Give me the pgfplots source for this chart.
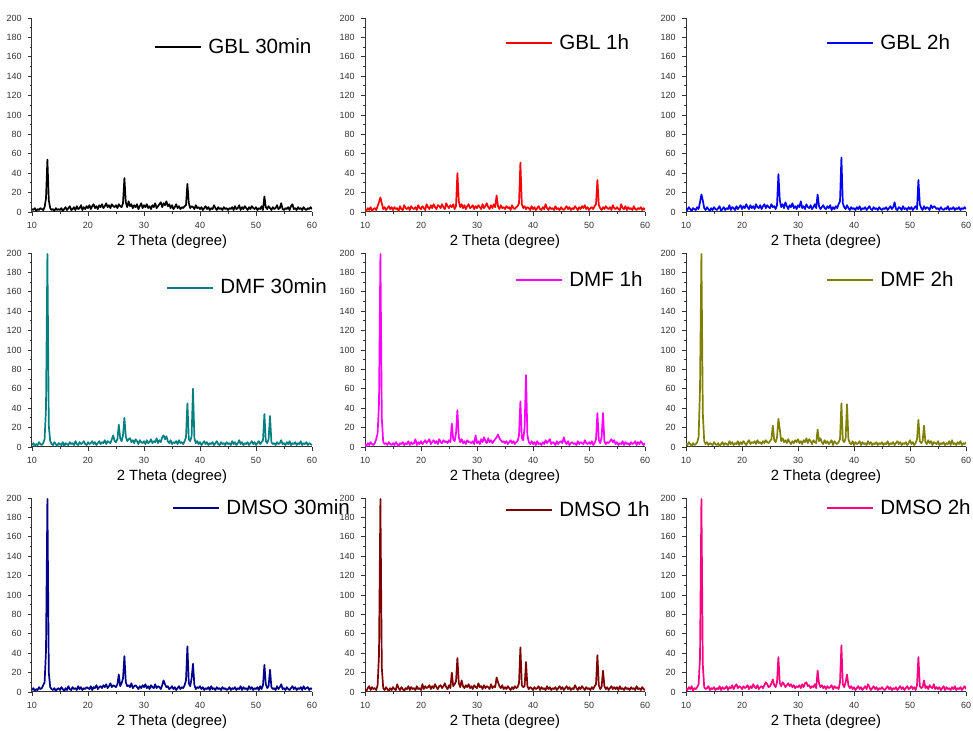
\documentclass[border=0pt]{standalone}
\usepackage{pgfplots}
\usepackage{pgfplotstable}
\pgfplotsset{compat=1.18}
\usepackage{fontspec}
\setmainfont{Liberation Sans}
\definecolor{cteal}{RGB}{0,128,128}
\definecolor{cmag}{RGB}{255,0,255}
\definecolor{colive}{RGB}{128,128,0}
\definecolor{cnavy}{RGB}{0,0,140}
\definecolor{cdred}{RGB}{128,0,0}
\definecolor{cpink}{RGB}{255,0,128}
\pgfplotstableread[row sep=\\,header=false]{3\\2\\4\\1\\3\\2\\4\\3\\2\\5\\14\\54\\12\\4\\2\\3\\1\\4\\2\\3\\
2\\4\\1\\3\\5\\2\\4\\6\\2\\3\\5\\2\\6\\3\\4\\7\\2\\5\\3\\6\\
4\\7\\3\\6\\8\\4\\6\\3\\7\\5\\8\\4\\6\\9\\5\\7\\4\\8\\6\\5\\
7\\4\\8\\6\\5\\9\\35\\10\\5\\11\\6\\8\\4\\7\\5\\8\\3\\6\\9\\4\\
7\\5\\8\\4\\6\\3\\7\\5\\9\\4\\6\\8\\10\\5\\9\\7\\11\\6\\8\\4\\
7\\3\\5\\8\\4\\6\\3\\5\\4\\6\\7\\29\\9\\4\\6\\5\\3\\7\\4\\5\\
3\\5\\2\\4\\6\\3\\5\\2\\4\\3\\7\\4\\2\\5\\3\\4\\2\\5\\3\\4\\
2\\4\\3\\5\\2\\6\\3\\4\\7\\2\\5\\3\\6\\4\\2\\5\\3\\6\\4\\3\\
5\\2\\4\\3\\6\\2\\16\\5\\3\\6\\4\\2\\5\\3\\4\\7\\3\\4\\9\\3\\
2\\4\\3\\5\\2\\6\\8\\3\\4\\2\\5\\3\\4\\2\\5\\3\\2\\4\\3\\5\\
3\\}\gblA
\pgfplotstableread[row sep=\\,header=false]{3\\1\\4\\2\\5\\1\\3\\4\\2\\6\\10\\15\\9\\3\\5\\2\\4\\6\\3\\5\\
2\\5\\3\\4\\1\\6\\3\\2\\7\\4\\3\\5\\2\\6\\4\\3\\5\\2\\7\\4\\
3\\6\\4\\2\\8\\5\\3\\7\\4\\8\\5\\3\\7\\6\\4\\8\\5\\3\\9\\6\\
4\\7\\5\\8\\3\\6\\40\\11\\5\\8\\4\\7\\3\\6\\8\\4\\5\\7\\3\\6\\
4\\7\\5\\3\\8\\4\\6\\9\\5\\3\\7\\4\\8\\5\\17\\6\\3\\7\\4\\5\\
3\\6\\4\\5\\2\\7\\4\\3\\5\\6\\9\\51\\8\\4\\6\\3\\5\\4\\2\\6\\
3\\5\\2\\4\\6\\3\\2\\5\\3\\8\\4\\2\\5\\3\\4\\2\\6\\3\\4\\2\\
5\\3\\2\\4\\6\\3\\5\\2\\4\\3\\6\\4\\2\\5\\3\\6\\4\\7\\3\\5\\
2\\4\\5\\3\\6\\8\\33\\7\\4\\2\\5\\3\\6\\4\\3\\5\\2\\7\\4\\3\\
5\\3\\2\\8\\4\\3\\6\\2\\5\\3\\4\\2\\6\\3\\2\\4\\3\\5\\2\\4\\
2\\}\gblB
\pgfplotstableread[row sep=\\,header=false]{4\\2\\5\\3\\1\\4\\3\\2\\5\\3\\10\\18\\12\\4\\2\\5\\3\\1\\4\\2\\
5\\3\\2\\4\\6\\1\\3\\5\\2\\4\\3\\7\\2\\5\\4\\2\\6\\3\\5\\7\\
3\\6\\4\\8\\5\\3\\7\\4\\6\\3\\8\\5\\4\\7\\3\\6\\8\\4\\7\\5\\
4\\8\\5\\6\\3\\7\\39\\12\\5\\8\\4\\10\\6\\3\\7\\5\\9\\4\\6\\3\\
7\\5\\11\\4\\6\\3\\8\\5\\4\\7\\3\\5\\8\\4\\18\\6\\3\\5\\7\\4\\
3\\6\\4\\7\\2\\5\\3\\6\\4\\8\\11\\56\\9\\5\\3\\7\\4\\2\\5\\3\\
4\\2\\5\\3\\6\\2\\4\\3\\5\\2\\4\\6\\3\\2\\5\\3\\4\\2\\5\\3\\
2\\4\\3\\5\\2\\4\\6\\3\\5\\10\\3\\2\\5\\4\\2\\6\\3\\4\\2\\5\\
3\\5\\2\\4\\6\\3\\33\\8\\4\\2\\6\\3\\5\\4\\2\\7\\4\\6\\5\\3\\
4\\2\\5\\3\\2\\4\\3\\6\\2\\4\\3\\5\\2\\4\\3\\5\\2\\4\\3\\5\\
3\\}\gblC
\pgfplotstableread[row sep=\\,header=false]{2\\4\\1\\3\\2\\5\\3\\2\\4\\8\\40\\199\\22\\6\\3\\2\\5\\3\\1\\4\\
3\\2\\5\\1\\4\\3\\2\\5\\3\\4\\2\\6\\3\\2\\5\\3\\4\\6\\3\\2\\
5\\3\\4\\6\\3\\5\\2\\4\\6\\3\\5\\4\\7\\3\\6\\5\\4\\8\\12\\6\\
5\\8\\23\\9\\6\\12\\30\\11\\6\\8\\9\\5\\7\\4\\8\\6\\3\\7\\5\\4\\
6\\3\\7\\4\\5\\8\\4\\6\\5\\9\\4\\7\\5\\10\\12\\8\\11\\6\\4\\7\\
3\\5\\4\\6\\3\\7\\4\\5\\3\\6\\10\\45\\8\\6\\11\\60\\9\\4\\6\\3\\
5\\2\\4\\6\\3\\5\\2\\4\\3\\5\\2\\4\\6\\3\\2\\5\\3\\4\\2\\5\\
3\\4\\2\\6\\3\\5\\2\\4\\7\\3\\5\\2\\4\\3\\5\\2\\4\\6\\3\\5\\
2\\4\\6\\3\\5\\7\\34\\6\\4\\8\\32\\5\\3\\4\\2\\5\\3\\4\\7\\3\\
4\\2\\5\\3\\6\\2\\4\\3\\5\\2\\4\\3\\6\\2\\4\\3\\5\\2\\4\\3\\
2\\}\dmfA
\pgfplotstableread[row sep=\\,header=false]{3\\1\\4\\2\\5\\3\\2\\4\\8\\14\\45\\199\\30\\5\\3\\4\\2\\5\\3\\2\\
4\\2\\5\\3\\1\\4\\3\\5\\2\\4\\3\\6\\2\\5\\3\\4\\8\\2\\5\\3\\
6\\3\\5\\7\\4\\6\\8\\3\\5\\7\\4\\6\\3\\8\\5\\4\\7\\5\\6\\4\\
7\\5\\24\\8\\6\\14\\38\\10\\5\\8\\4\\6\\3\\7\\5\\5\\4\\6\\3\\12\\
4\\6\\3\\8\\5\\10\\6\\4\\9\\5\\7\\4\\6\\8\\10\\13\\9\\7\\5\\6\\
4\\6\\3\\5\\7\\4\\6\\3\\5\\6\\12\\47\\9\\7\\20\\74\\12\\5\\3\\6\\
3\\5\\2\\6\\3\\4\\2\\5\\3\\7\\4\\6\\8\\3\\5\\4\\2\\6\\3\\5\\
6\\4\\10\\5\\3\\6\\2\\4\\5\\3\\4\\2\\6\\3\\5\\4\\3\\7\\4\\3\\
5\\3\\6\\2\\4\\8\\35\\7\\4\\10\\35\\6\\3\\5\\4\\6\\8\\5\\7\\3\\
5\\2\\4\\3\\6\\2\\5\\3\\4\\2\\5\\3\\4\\6\\2\\5\\3\\6\\4\\2\\
4\\}\dmfB
\pgfplotstableread[row sep=\\,header=false]{4\\2\\5\\3\\1\\4\\2\\3\\5\\10\\60\\199\\35\\6\\3\\5\\2\\4\\3\\2\\
5\\3\\2\\4\\1\\3\\5\\2\\4\\3\\2\\6\\3\\5\\2\\4\\3\\6\\2\\5\\
3\\6\\4\\2\\5\\7\\3\\5\\4\\6\\3\\7\\4\\5\\3\\6\\4\\7\\5\\4\\
6\\8\\22\\7\\5\\10\\29\\18\\6\\9\\5\\7\\4\\8\\5\\3\\6\\4\\7\\5\\
8\\4\\6\\3\\7\\5\\9\\4\\8\\6\\3\\7\\5\\4\\18\\6\\9\\5\\3\\7\\
4\\6\\3\\5\\7\\2\\6\\4\\3\\5\\8\\45\\7\\5\\9\\44\\8\\4\\3\\6\\
2\\5\\3\\4\\6\\2\\5\\3\\4\\2\\6\\3\\5\\2\\4\\3\\5\\2\\4\\3\\
5\\2\\4\\3\\6\\2\\4\\3\\5\\2\\4\\6\\3\\5\\2\\4\\3\\5\\2\\4\\
7\\3\\5\\2\\4\\8\\28\\6\\4\\6\\22\\5\\3\\7\\4\\6\\2\\5\\4\\3\\
6\\2\\4\\3\\5\\2\\4\\3\\6\\2\\7\\3\\4\\2\\5\\3\\6\\2\\4\\3\\
5\\}\dmfC
\pgfplotstableread[row sep=\\,header=false]{2\\4\\1\\3\\2\\5\\3\\4\\7\\10\\42\\199\\20\\5\\3\\2\\4\\1\\3\\4\\
2\\5\\3\\1\\4\\2\\6\\3\\2\\5\\3\\4\\2\\6\\3\\5\\2\\4\\3\\5\\
4\\3\\6\\2\\5\\4\\7\\3\\5\\6\\4\\7\\5\\8\\4\\6\\9\\5\\7\\6\\
5\\8\\18\\6\\9\\14\\37\\10\\6\\7\\5\\9\\4\\6\\7\\5\\3\\6\\4\\7\\
5\\8\\4\\6\\3\\7\\5\\4\\8\\4\\6\\5\\3\\7\\12\\8\\5\\6\\3\\4\\
6\\3\\5\\2\\4\\6\\3\\5\\4\\7\\12\\47\\9\\6\\14\\29\\7\\3\\5\\4\\
6\\3\\5\\2\\4\\3\\5\\2\\6\\3\\4\\2\\5\\3\\4\\2\\5\\3\\4\\2\\
3\\5\\2\\4\\3\\5\\2\\4\\3\\6\\2\\5\\3\\4\\2\\6\\3\\5\\2\\4\\
3\\5\\2\\6\\3\\7\\28\\8\\4\\6\\23\\5\\3\\4\\2\\6\\3\\5\\8\\3\\
4\\2\\5\\3\\2\\4\\6\\3\\5\\2\\4\\3\\5\\2\\6\\3\\4\\5\\2\\4\\
3\\}\dmsoA
\pgfplotstableread[row sep=\\,header=false]{3\\1\\4\\6\\2\\5\\3\\4\\2\\7\\38\\199\\25\\4\\2\\5\\3\\1\\4\\2\\
5\\3\\2\\8\\4\\2\\5\\3\\1\\4\\3\\6\\2\\5\\3\\4\\2\\6\\3\\4\\
2\\8\\3\\6\\4\\5\\7\\3\\6\\4\\8\\5\\3\\6\\7\\4\\6\\9\\5\\3\\
7\\4\\20\\6\\8\\11\\35\\9\\5\\12\\6\\4\\7\\5\\8\\4\\6\\3\\7\\5\\
4\\9\\5\\6\\3\\7\\4\\6\\5\\3\\8\\4\\6\\5\\15\\10\\6\\4\\7\\3\\
5\\3\\6\\4\\2\\5\\3\\6\\4\\5\\9\\46\\7\\5\\6\\31\\6\\3\\5\\4\\
2\\5\\3\\4\\6\\2\\5\\3\\4\\2\\6\\3\\5\\2\\4\\3\\5\\2\\4\\6\\
3\\5\\2\\4\\6\\3\\5\\2\\4\\3\\7\\4\\2\\5\\3\\6\\4\\2\\5\\3\\
4\\2\\5\\3\\6\\8\\38\\7\\3\\5\\22\\6\\3\\5\\2\\4\\6\\3\\5\\3\\
5\\2\\6\\3\\4\\2\\5\\3\\4\\2\\5\\3\\4\\2\\6\\3\\4\\2\\5\\3\\
2\\}\dmsoB
\pgfplotstableread[row sep=\\,header=false]{4\\2\\5\\3\\6\\1\\4\\3\\5\\8\\35\\199\\28\\5\\3\\4\\6\\2\\4\\3\\
5\\2\\4\\3\\6\\2\\5\\3\\4\\6\\2\\5\\4\\7\\3\\6\\8\\4\\6\\5\\
3\\6\\4\\5\\7\\3\\6\\4\\8\\5\\4\\7\\3\\5\\6\\4\\7\\10\\8\\5\\
6\\9\\13\\7\\5\\10\\36\\9\\6\\10\\8\\5\\7\\9\\6\\8\\5\\7\\4\\6\\
5\\7\\4\\8\\5\\9\\10\\6\\7\\4\\6\\5\\8\\4\\22\\9\\5\\7\\4\\6\\
3\\6\\4\\5\\7\\3\\6\\4\\5\\3\\10\\48\\8\\5\\10\\18\\7\\4\\6\\3\\
5\\2\\4\\6\\3\\5\\2\\4\\6\\3\\8\\5\\2\\4\\6\\3\\5\\2\\4\\3\\
5\\3\\2\\4\\6\\3\\5\\2\\4\\3\\5\\2\\4\\6\\3\\5\\2\\4\\6\\3\\
4\\6\\3\\5\\2\\7\\36\\6\\4\\5\\12\\4\\6\\3\\7\\5\\4\\8\\3\\5\\
3\\5\\2\\4\\6\\2\\5\\3\\4\\2\\5\\3\\6\\2\\4\\3\\5\\2\\4\\6\\
3\\}\dmsoC
\pgfplotsset{
  xrd/.style={
    width=140pt, height=97pt, scale only axis,
    xmin=10, xmax=60, ymin=0, ymax=200,
    axis x line*=bottom, axis y line*=left,
    axis line style={black!80, line width=0.5pt},
    xtick={10,20,...,60}, ytick={0,20,...,200},
    minor x tick num=1, minor y tick num=1,
    tick align=outside, major tick length=2pt, minor tick length=1.2pt,
    tick style={black!80, line width=0.4pt},
    tick label style={font=\fontsize{4.5}{5}\selectfont, text=black!80},
    /pgf/number format/assume math mode=true,
    xticklabel style={yshift=0.6pt},
    yticklabel style={xshift=0.4pt},
    xlabel={2 Theta (degree)},
    xlabel style={font=\fontsize{7.4}{8.5}\selectfont, at={(axis description cs:0.5,0)}, anchor=center, yshift=-15pt},
    legend style={draw=none, fill=none, anchor=west, inner sep=0pt,
      font=\fontsize{10.3}{12}\selectfont, nodes={inner sep=1.25pt}},
    legend image code/.code={\draw[#1, line width=0.9pt] (0pt,0pt) -- (23pt,0pt); \path (24.8pt,0pt);},
    every axis plot/.append style={line width=0.85pt, line join=round},
  },
}
\begin{document}
\begin{tikzpicture}
\path[use as bounding box] (0,0) rectangle (486.5pt,365.5pt);
% row 1
\begin{axis}[xrd, at={(16pt,259.5pt)}, anchor=south west, legend style={at={(axis description cs:0.436,0.85)}}]
\addplot[black] table[x expr=10+0.25*\coordindex, y index=0] {\gblA};
\addlegendentry{GBL 30min}
\end{axis}
\begin{axis}[xrd, at={(182.5pt,259.5pt)}, anchor=south west, legend style={at={(axis description cs:0.50,0.87)}}]
\addplot[red] table[x expr=10+0.25*\coordindex, y index=0] {\gblB};
\addlegendentry{GBL 1h}
\end{axis}
\begin{axis}[xrd, at={(343pt,259.5pt)}, anchor=south west, legend style={at={(axis description cs:0.50,0.87)}}]
\addplot[blue] table[x expr=10+0.25*\coordindex, y index=0] {\gblC};
\addlegendentry{GBL 2h}
\end{axis}
% row 2
\begin{axis}[xrd, at={(16pt,142pt)}, anchor=south west, legend style={at={(axis description cs:0.479,0.82)}}]
\addplot[cteal] table[x expr=10+0.25*\coordindex, y index=0] {\dmfA};
\addlegendentry{DMF 30min}
\end{axis}
\begin{axis}[xrd, at={(182.5pt,142pt)}, anchor=south west, legend style={at={(axis description cs:0.536,0.86)}}]
\addplot[cmag] table[x expr=10+0.25*\coordindex, y index=0] {\dmfB};
\addlegendentry{DMF 1h}
\end{axis}
\begin{axis}[xrd, at={(343pt,142pt)}, anchor=south west, legend style={at={(axis description cs:0.50,0.86)}}]
\addplot[colive] table[x expr=10+0.25*\coordindex, y index=0] {\dmfC};
\addlegendentry{DMF 2h}
\end{axis}
% row 3
\begin{axis}[xrd, at={(16pt,19.5pt)}, anchor=south west, legend style={at={(axis description cs:0.50,0.947)}}]
\addplot[cnavy] table[x expr=10+0.25*\coordindex, y index=0] {\dmsoA};
\addlegendentry{DMSO 30min}
\end{axis}
\begin{axis}[xrd, at={(182.5pt,19.5pt)}, anchor=south west, legend style={at={(axis description cs:0.50,0.937)}}]
\addplot[cdred] table[x expr=10+0.25*\coordindex, y index=0] {\dmsoB};
\addlegendentry{DMSO 1h}
\end{axis}
\begin{axis}[xrd, at={(343pt,19.5pt)}, anchor=south west, legend style={at={(axis description cs:0.50,0.947)}}]
\addplot[cpink] table[x expr=10+0.25*\coordindex, y index=0] {\dmsoC};
\addlegendentry{DMSO 2h}
\end{axis}
\end{tikzpicture}
\end{document}
